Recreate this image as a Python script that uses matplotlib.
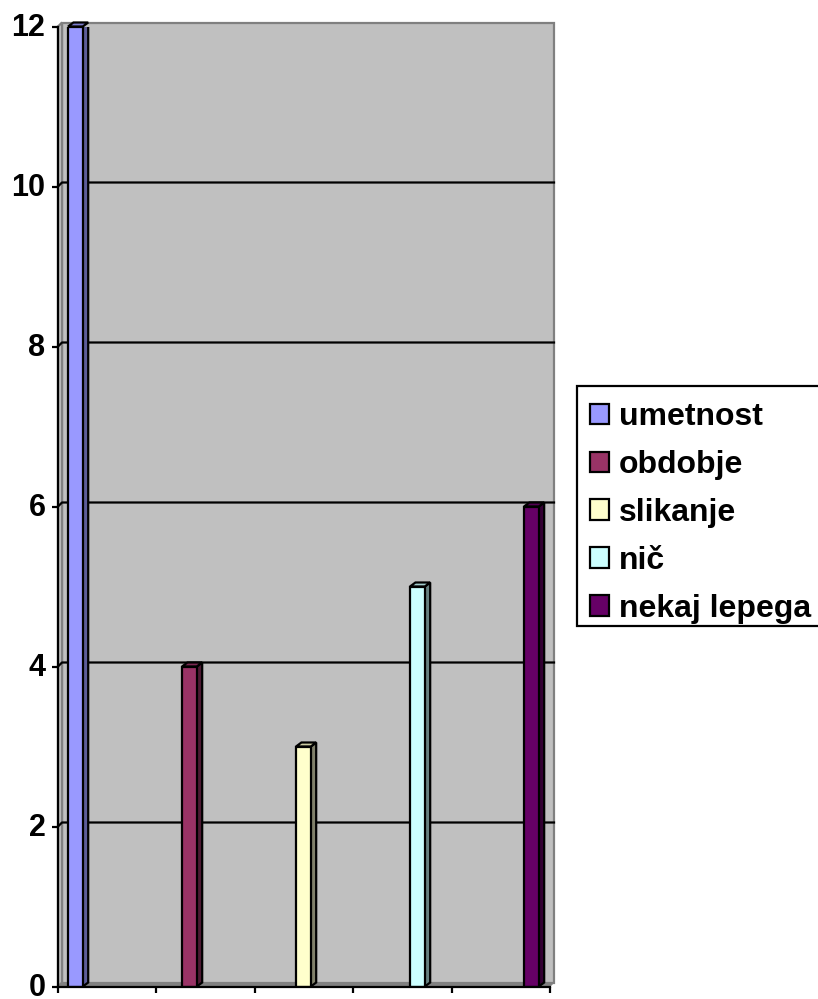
import matplotlib
matplotlib.use('Agg')
import matplotlib.pyplot as plt
from matplotlib.patches import Patch, Polygon, Rectangle
from matplotlib.transforms import ScaledTranslation

plt.rcParams['font.family'] = ['Liberation Sans', 'DejaVu Sans']
plt.rcParams['font.weight'] = 'bold'

labels = ['umetnost', 'obdobje', 'slikanje', 'nič', 'nekaj lepega']
values = [12, 4, 3, 5, 6]
colors = ['#9999FF', '#993366', '#FFFFCC', '#CCFFFF', '#660066']
side_colors = ['#5C5C99', '#4D1A33', '#80806A', '#668080', '#330033']
top_colors = ['#7A7ACC', '#7A2952', '#CCCCA3', '#A3CCCC', '#520052']
y_ticks = [0, 2, 4, 6, 8, 10, 12]
x_ticks = [0, 1, 2, 3, 4, 5]

W, H = 818, 999
lw = 1.6
fig = plt.figure(figsize=(W / 100, H / 100), dpi=100)
ax = fig.add_axes([58 / W, 12.5 / H, 492 / W, 960 / H])
ax.set_xlim(0, 5)
ax.set_ylim(0, 12)

# depth of the fake 3d box
dx = 4 / 98.4
dy = 4 / 80

# walls and floor
ax.add_patch(Polygon([(dx, dy), (5 + dx, dy), (5 + dx, 12 + dy), (dx, 12 + dy)],
                     facecolor='#C0C0C0', edgecolor='#808080', lw=lw, clip_on=False, zorder=1))
ax.add_patch(Polygon([(0, 0), (dx, dy), (dx, 12 + dy), (0, 12)],
                     facecolor='#C0C0C0', edgecolor='#808080', lw=lw, clip_on=False, zorder=1))
ax.add_patch(Polygon([(0, 0), (5, 0), (5 + dx, dy), (dx, dy)],
                     facecolor='#808080', edgecolor='#808080', lw=0.5, clip_on=False, zorder=1.5))

# gridlines on the back wall, with the step on the side wall
for v in y_ticks[1:-1]:
    ax.plot([0, dx, 5 + dx], [v, v + dy, v + dy], color='black', lw=lw, clip_on=False, zorder=2)

# bars
start = 0.102
step = 1.1585
width = 0.15
bar_dx = 5.4 / 98.4
for i, v in enumerate(values):
    x0 = start + step * i
    x1 = x0 + width
    ax.add_patch(Polygon([(x1, 0), (x1 + bar_dx, dy), (x1 + bar_dx, v + dy), (x1, v)],
                         facecolor=side_colors[i], edgecolor='black', lw=lw, zorder=3, joinstyle='miter'))
    ax.add_patch(Polygon([(x0, v), (x1, v), (x1 + bar_dx, v + dy), (x0 + bar_dx, v + dy)],
                         facecolor=top_colors[i], edgecolor='black', lw=lw, zorder=3,
                         joinstyle='miter', clip_on=False))
    ax.bar(x0, v, width=width, align='edge', color=colors[i], edgecolor='black', lw=lw, zorder=4)

ax.spines['top'].set_visible(False)
ax.spines['right'].set_visible(False)
for s in ['left', 'bottom']:
    ax.spines[s].set_linewidth(lw)
    ax.spines[s].set_zorder(5)

ax.set_yticks(y_ticks)
ax.set_xticks(x_ticks)
ax.set_xticklabels([])
ax.tick_params(axis='y', length=4.5, width=lw, pad=4.5, labelsize=22)
ax.tick_params(axis='x', length=4.5, width=lw)
# lift the labels a little so the 0 stays inside the picture
lift = ScaledTranslation(0, 2.5 / 100, fig.dpi_scale_trans)
for tick in ax.yaxis.get_major_ticks():
    tick.label1.set_verticalalignment('center_baseline')
    tick.label1.set_transform(tick.label1.get_transform() + lift)

# legend box drawn apart, its rows do not sit in the middle of it and it runs off the right edge
fig.add_artist(Rectangle((577 / W, 1 - 626 / H), 260 / W, 240 / H, transform=fig.transFigure,
                         facecolor='white', edgecolor='black', lw=lw, zorder=2))
handles = [Patch(facecolor=c, edgecolor='black', lw=lw) for c in colors]
leg = fig.legend(handles, labels, loc='upper left', bbox_to_anchor=(577 / W, 1 - 389 / H),
                 bbox_transform=fig.transFigure, borderaxespad=0, frameon=False,
                 fontsize=23, handlelength=0.6, handleheight=0.6,
                 handletextpad=0.31, labelspacing=0.56, borderpad=0.41)
leg.set_zorder(3)

fig.savefig('out.png', dpi=100)
